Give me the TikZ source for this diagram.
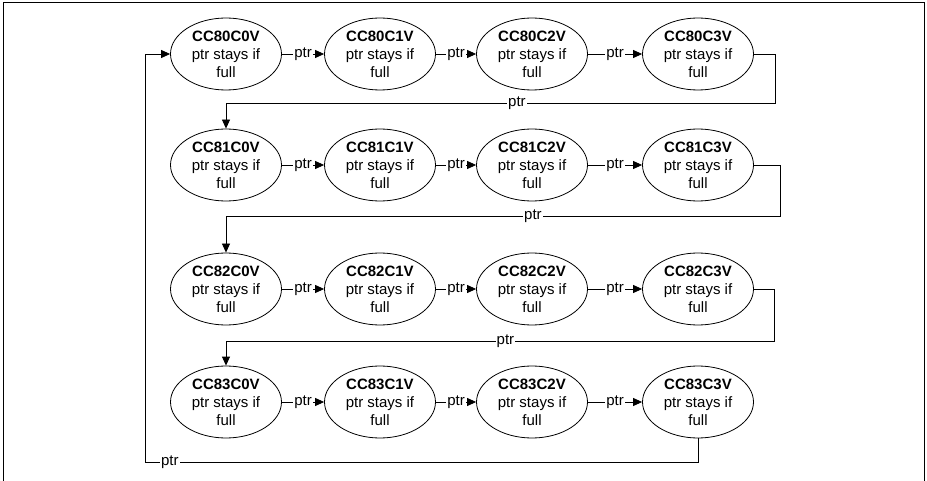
\documentclass[tikz,border=0pt]{standalone}
\usepackage{fontspec}
\setmainfont{Liberation Sans}
\usetikzlibrary{shapes.geometric,arrows.meta}
\begin{document}
\begin{tikzpicture}[x=1pt,y=-1pt,
  st/.style={ellipse,draw,line width=0.8pt,minimum width=111pt,minimum height=72pt,inner sep=0pt,align=center,font=\fontsize{15}{18}\selectfont},
  conn/.style={draw,line width=0.8pt,-{Triangle[length=9pt,width=8pt]}},
  lbl/.style={fill=white,inner sep=1pt,font=\fontsize{15}{18}\selectfont}
]
\useasboundingbox (0,0) rectangle (927,481);
\draw[line width=1pt] (3,481) -- (3,3) -- (924,3) -- (924,481);
\foreach \r/\y in {0/54,1/165,2/289,3/402} {
  \foreach \c/\x in {0/226,1/380,2/532,3/698} {
    \node[st] (n\r\c) at (\x,\y) {\textbf{CC8\r C\c V}\\ptr stays if\\full};
  }
}
\foreach \r in {0,1,2,3} {
  \foreach \c/\d in {0/1,1/2,2/3} {
    \draw[conn] (n\r\c) -- node[lbl]{ptr} (n\r\d);
  }
}
\coordinate (r0) at (775,103);
\coordinate (r1) at (780,216);
\coordinate (r2) at (774,341);
\coordinate (b0) at (145,462);
\draw[conn] (n03.east) -| (r0) -- node[lbl,pos=0.47]{ptr} (r0 -| n10) -- (n10.north);
\draw[conn] (n13.east) -| (r1) -- node[lbl,pos=0.446]{ptr} (r1 -| n20) -- (n20.north);
\draw[conn] (n23.east) -| (r2) -- node[lbl,pos=0.49]{ptr} (r2 -| n30) -- (n30.north);
\draw[conn] (n33.south) -- (n33 |- b0) -- node[lbl,pos=0.955]{ptr} (b0) |- (n00.west);
\end{tikzpicture}
\end{document}
